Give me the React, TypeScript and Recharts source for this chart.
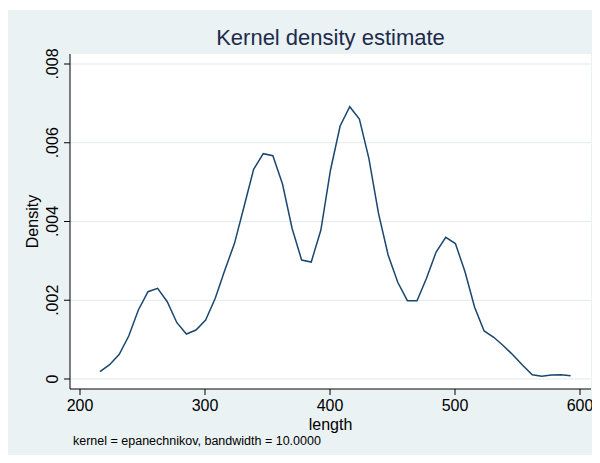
import React from 'react';
import { LineChart, Line, XAxis, YAxis, CartesianGrid } from 'recharts';

// kernel density evaluated on 50 points across the sample range
const lengthPoints = [
  216.0, 223.7, 231.4, 239.0, 246.7, 254.4, 262.1, 269.8, 277.5, 285.1,
  292.8, 300.5, 308.2, 315.9, 323.6, 331.2, 338.9, 346.6, 354.3, 362.0,
  369.7, 377.3, 385.0, 392.7, 400.4, 408.1, 415.8, 423.5, 431.1, 438.8,
  446.5, 454.2, 461.9, 469.6, 477.2, 484.9, 492.6, 500.3, 508.0, 515.7,
  523.3, 531.0, 538.7, 546.4, 554.1, 561.8, 569.4, 577.1, 584.8, 592.5,
];

const densityValues = [
  0.000185, 0.000363, 0.000627, 0.001092, 0.001752, 0.002217, 0.002303, 0.001963, 0.00143, 0.001143,
  0.001244, 0.001498, 0.00205, 0.002768, 0.003446, 0.004376, 0.005326, 0.005722, 0.005671, 0.004952,
  0.003822, 0.003022, 0.002971, 0.003784, 0.005308, 0.006425, 0.006916, 0.006603, 0.005605, 0.004208,
  0.003149, 0.002456, 0.001989, 0.001989, 0.002557, 0.003225, 0.003599, 0.003441, 0.002725, 0.001821,
  0.001219, 0.001059, 0.000846, 0.00061, 0.000348, 0.000109, 0.000069, 0.000102, 0.000109, 0.000084,
];

const xTicks = [200, 300, 400, 500, 600];
const yTicks = [0, 0.002, 0.004, 0.006, 0.008];

const data = lengthPoints.map((x, i) => ({ length: x, density: densityValues[i] }));

const FONT = '"Liberation Sans", Arial, Helvetica, sans-serif';

const fmtY = (v: number) => (v === 0 ? '0' : v.toFixed(3).replace(/^0/, ''));

const YTick = (props: any) => {
  const { x, y, payload } = props;
  return (
    <text
      x={x}
      y={y}
      transform={`rotate(-90 ${x} ${y})`}
      textAnchor="middle"
      fill="#000"
      fontSize={16}
      fontFamily={FONT}
    >
      {fmtY(payload.value)}
    </text>
  );
};

export default function App() {
  return (
    <div
      style={{
        position: 'relative',
        width: 594,
        height: 445,
        marginLeft: -2,
        marginTop: 2,
        background: '#EAF2F3',
        fontFamily: FONT,
      }}
    >
      <LineChart width={594} height={445} data={data} margin={{ top: 44, right: 9, left: 0, bottom: 0 }}>
        <CartesianGrid vertical={false} fill="#ffffff" stroke="#E1EAEE" strokeWidth={1.2} horizontalValues={yTicks} />
        <XAxis
          dataKey="length"
          type="number"
          domain={[192, 608.8]}
          allowDataOverflow
          ticks={xTicks}
          interval={0}
          height={66}
          tickSize={6}
          tickMargin={5}
          stroke="#000"
          tick={{ fill: '#000', fontSize: 16, fontFamily: FONT }}
        />
        <YAxis
          type="number"
          domain={[-0.000254, 0.008254]}
          allowDataOverflow
          ticks={yTicks}
          interval={0}
          width={64}
          tickSize={6}
          tickMargin={6}
          stroke="#000"
          tick={<YTick />}
        />
        <Line
          type="linear"
          dataKey="density"
          stroke="#1A476F"
          strokeWidth={1.5}
          dot={false}
          activeDot={false}
          isAnimationActive={false}
        />
      </LineChart>
      <svg
        width={594}
        height={445}
        style={{ position: 'absolute', left: 0, top: 0, pointerEvents: 'none' }}
      >
        <text x={324.5} y={35} textAnchor="middle" fontSize={22} fill="#1E2B4B" fontFamily={FONT}>
          Kernel density estimate
        </text>
        <text
          x={32}
          y={211.5}
          transform="rotate(-90 32 211.5)"
          textAnchor="middle"
          fontSize={16}
          fill="#000"
          fontFamily={FONT}
        >
          Density
        </text>
        <text x={324.5} y={420} textAnchor="middle" fontSize={16} fill="#000" fontFamily={FONT}>
          length
        </text>
        <text x={67} y={435} fontSize={12.5} fill="#000" fontFamily={FONT}>
          kernel = epanechnikov, bandwidth = 10.0000
        </text>
      </svg>
    </div>
  );
}
